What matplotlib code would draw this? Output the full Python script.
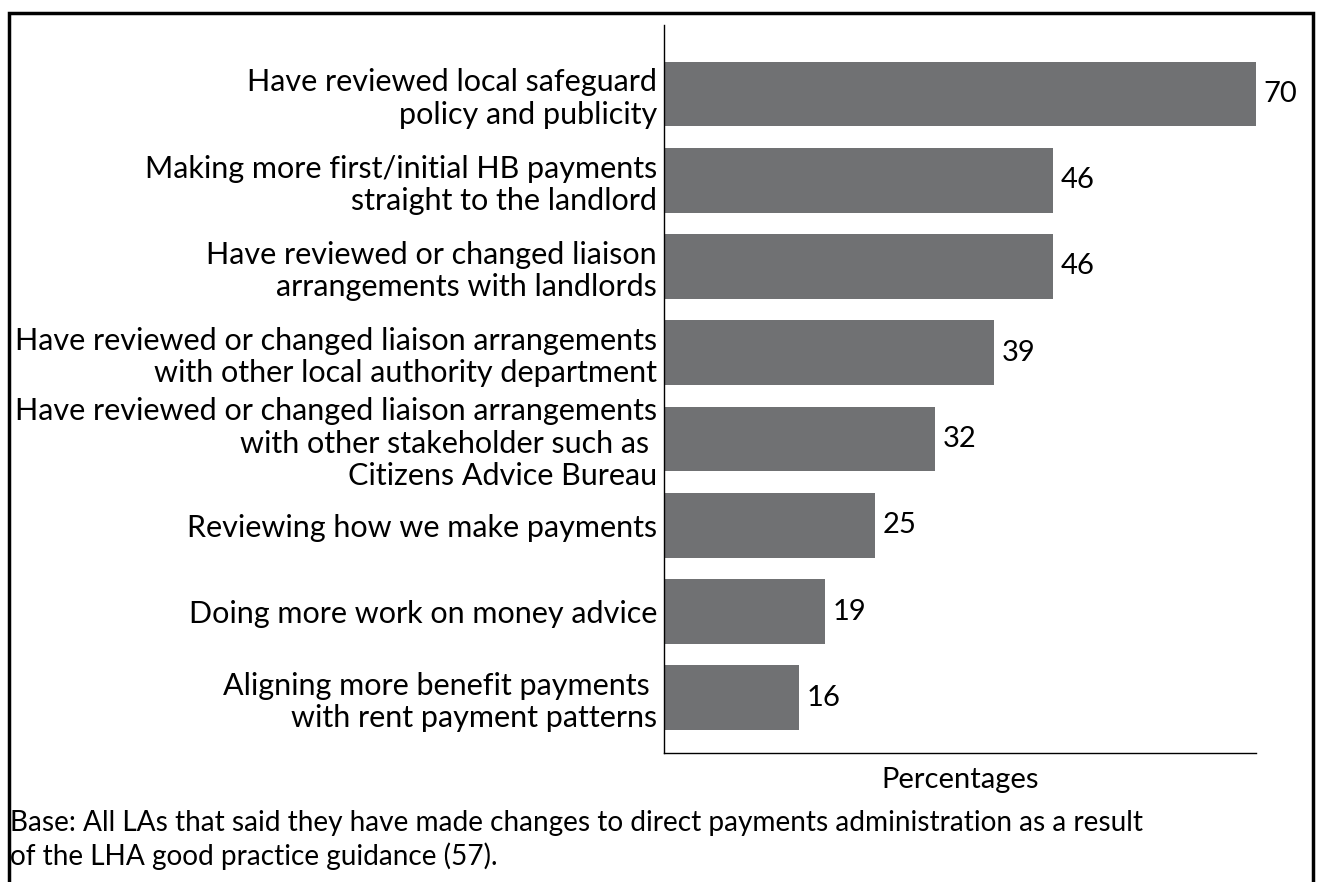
import numpy as np
import matplotlib.pyplot as plt
from matplotlib.patches import Rectangle

# survey results, top to bottom
labels = [
    "Have reviewed local safeguard\npolicy and publicity",
    "Making more first/initial HB payments\nstraight to the landlord",
    "Have reviewed or changed liaison\narrangements with landlords",
    "Have reviewed or changed liaison arrangements\nwith other local authority department",
    "Have reviewed or changed liaison arrangements\nwith other stakeholder such as \nCitizens Advice Bureau",
    "Reviewing how we make payments",
    "Doing more work on money advice",
    "Aligning more benefit payments \nwith rent payment patterns",
]
values = [70, 46, 46, 39, 32, 25, 19, 16]

base_note = ("Base: All LAs that said they have made changes to direct payments administration as a result\n"
             "of the LHA good practice guidance (57).")

plt.rcParams['font.family'] = ['Lato', 'DejaVu Sans']
bar_color = '#707173'

fig = plt.figure(figsize=(13.22, 8.82), dpi=100)
ax = fig.add_axes([0.5023, 0.1463, 0.4478, 0.8254])

y = np.arange(len(values))
ax.barh(y, values, height=0.75, color=bar_color)
for yi, v in zip(y, values):
    ax.text(v + 0.9, yi, str(v), va='center', ha='left', fontsize=21)

ax.set_xlim(0, 70)
ax.set_ylim(7.64, -0.8)
ax.set_yticks(y)
ax.set_yticklabels(labels, fontsize=22, multialignment='right', linespacing=1.18)
ax.tick_params(axis='y', length=0, pad=5)
ax.set_xticks([])
ax.spines['top'].set_visible(False)
ax.spines['right'].set_visible(False)
ax.spines['left'].set_linewidth(1.0)
ax.spines['bottom'].set_linewidth(1.0)

ax.set_xlabel('Percentages', fontsize=21, labelpad=10)

fig.text(10 / 1322, 1 - 840 / 882, base_note, fontsize=20.2, ha='left', va='center', linespacing=1.3)

# box around the whole chart, open at the bottom
frame = Rectangle((9 / 1322, -0.1), (1313 - 9) / 1322, 1.1 - 13 / 882,
                  transform=fig.transFigure, fill=False, lw=2.5, ec='black', clip_on=False)
fig.patches.append(frame)

fig.savefig('out.png', dpi=100)
